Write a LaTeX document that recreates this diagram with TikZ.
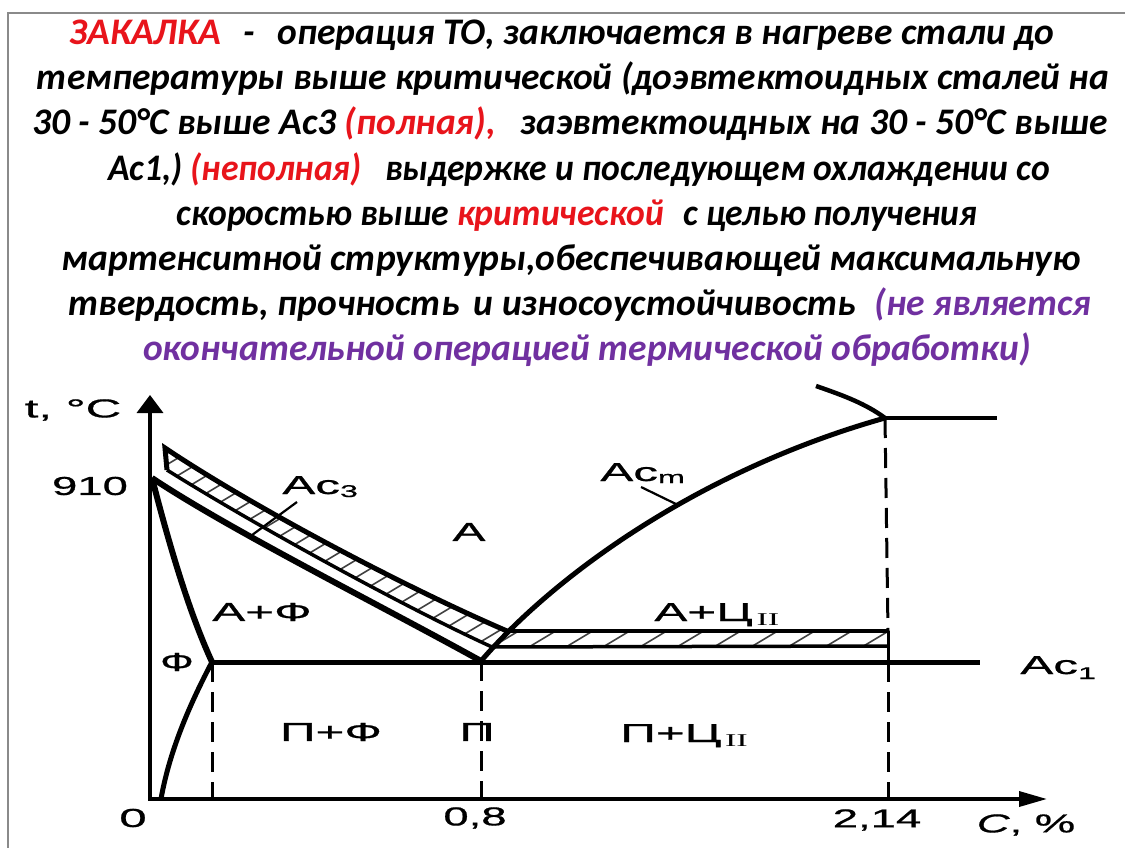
\documentclass[tikz,border=0pt]{standalone}
\usepackage{fontspec}
\setmainfont{Carlito}
\newfontfamily\arialf[FakeBold=0.6]{Liberation Sans}
\newfontfamily\timesf{Liberation Serif}
\usetikzlibrary{arrows.meta}
\definecolor{zred}{HTML}{E8141B}
\definecolor{zpurple}{HTML}{7030A0}
\definecolor{framegray}{HTML}{8A8A8A}
\begin{document}
\begin{tikzpicture}[x=1pt,y=-1pt,
  txt/.style={anchor=base, inner sep=0pt, font=\fontsize{37.5}{44}\selectfont\bfseries\itshape},
  lbl/.style={inner sep=0pt, xscale=1.9, font=\arialf\fontsize{26}{26}\selectfont},
  curvethick/.style={line width=6pt},
  bandline/.style={line width=3.5pt},
  axisline/.style={line width=3.5pt},
  dashline/.style={line width=3pt, dash pattern=on 20pt off 10pt},
  hatchline/.style={line width=1.6pt, black!75},
  leader/.style={line width=2.2pt}]
\useasboundingbox (0,0) rectangle (1125,848);
\fill[white] (0,0) rectangle (1125,848);
% frame
\draw[framegray, line width=2pt] (8,848) -- (8,13) -- (1125,13);

% ---------- title text ----------
\node[txt] (l1) at (562,45) {\textcolor{zred}{ЗАКАЛКА}\hspace{14pt} -\hspace{14pt} операция ТО, заключается в нагреве стали до};
\node[txt] (l2) at (573,90) {температуры выше критической (доэвтектоидных сталей на};
\node[txt] (l3) at (570,135) {30 - 50°C выше Ac3 \textcolor{zred}{(полная),}\hspace{16pt} заэвтектоидных на 30 - 50°C выше};
\node[txt, xscale=0.95] (l4) at (579,180) {Ac1,) \textcolor{zred}{(неполная)}\hspace{16pt} выдержке и последующем охлаждении со};
\node[txt, xscale=0.95] (l5) at (577,225) {скоростью выше \textcolor{zred}{критической}\hspace{12pt} с целью получения};
\node[txt] (l6) at (571,270) {мартенситной структуры,обеспечивающей максимальную};
\node[txt] (l7) at (580,315) {твердость, прочность\hspace{6pt} и износоустойчивость\hspace{10pt} \textcolor{zpurple}{(не является}};
\node[txt] (l8) at (587,360) {\textcolor{zpurple}{окончательной операцией термической обработки)}};

% ---------- key points ----------
\coordinate (O) at (150,799);
\coordinate (Ytop) at (150,395);
\coordinate (Xend) at (1047,799);
\coordinate (G) at (152,478);
\coordinate (S) at (481,661);
\coordinate (P) at (212,662);
\coordinate (E) at (885,418);
\coordinate (Ac1end) at (980,662);
\coordinate (Eend) at (997,418);
\coordinate (Lq) at (816,386);
\coordinate (Bu1) at (165,448);
\coordinate (Bu2) at (507,631);
\coordinate (Bl1) at (167,470);
\coordinate (Bl2) at (492,647);
\coordinate (Hu2) at (888,631);
\coordinate (Hl2) at (888,646);
\coordinate (Fbot) at (161,799);

% ---------- hatching ----------
\begin{scope}
  \clip (Bu1) .. controls (250,505) and (400,585) .. (Bu2)
        -- (Bl2) .. controls (400,605) and (250,522) .. (Bl1) -- cycle;
  \foreach \i in {0,...,40} {
    \draw[hatchline] (-450+\i*29,800) -- ++(600,-360);
  }
\end{scope}
\begin{scope}
  \clip (Bu2) -- (Hu2) -- (Hl2) -- (Bl2) -- cycle;
  \foreach \i in {0,...,40} {
    \draw[hatchline] (200+\i*37,800) -- ++(600,-360);
  }
\end{scope}

% ---------- axes ----------
\draw[axisline, -{Triangle[length=18pt,width=26pt]}] (150,800) -- (Ytop);
\draw[axisline, -{Triangle[length=28pt,width=15pt]}] (148,799) -- (Xend);

% ---------- dashed verticals ----------
\draw[dashline] (P) -- (212,799);
\draw[dashline] (S) -- (481,799);
\draw[dashline] (E) -- (888,631);
\draw[dashline] (888,662) -- (888,799);
\draw[line width=3pt] (Hu2) -- (888,662);

% ---------- band outlines ----------
\draw[line width=5pt, line join=miter] (Bl1) -- (Bu1) .. controls (250,505) and (400,585) .. (Bu2);
\draw[bandline] (Bl1) .. controls (250,522) and (400,605) .. (Bl2);
\draw[bandline] (Bu2) -- (Hu2);
\draw[bandline] (Bl2) -- (Hl2);

% ---------- phase lines ----------
\draw[curvethick] (G) .. controls (230,530) and (380,605) .. (S);
\draw[curvethick] (G) .. controls (168,540) and (188,610) .. (P);
\draw[line width=5pt] (P) .. controls (192,700) and (170,748) .. (Fbot);
\draw[line width=5pt] (P) -- (Ac1end);
\draw[line width=5pt] (S) .. controls (555,575) and (700,470) .. (E);
\draw[line width=4.5pt] (E) -- (Eend);
\draw[line width=4.5pt] (Lq) .. controls (845,396) and (866,404) .. (E);

% ---------- leaders ----------
\coordinate (Ld1a) at (297,502);
\coordinate (Ld1b) at (248,538);
\coordinate (Ld2a) at (641,487);
\coordinate (Ld2b) at (678,505);
\draw[leader] (Ld1a) -- (Ld1b);
\draw[leader] (Ld2a) -- (Ld2b);

% ---------- labels ----------
\node[lbl] (tC) at (73,410) {t, °C};
\node[lbl, xscale=0.92] (n910) at (90,486) {910};
\node[lbl, anchor=base west] (ac3) at (282,494) {Ac\raisebox{-3pt}{\fontsize{17}{17}\selectfont 3}};
\node[lbl] (A) at (469,532) {A};
\node[lbl] (AF) at (262,612) {A+Ф};
\node[lbl, anchor=base west] (acm) at (600,481) {Ac\raisebox{-2pt}{\fontsize{17}{17}\selectfont m}};
\node[lbl, anchor=base west] (ACII) at (654,621) {A+Ц\hspace{2pt}\raisebox{-4pt}{\timesf\fontsize{18}{18}\selectfont II}};
\node[lbl, xscale=0.9] (F) at (177,662) {Ф};
\node[lbl, anchor=base west] (ac1) at (1020,674) {Ac\raisebox{-5pt}{\fontsize{17}{17}\selectfont 1}};
\node[lbl] (PF) at (331,732) {П+Ф};
\node[lbl] (Pn) at (477,732) {П};
\node[lbl, anchor=base west] (PCII) at (620,742) {П+Ц\hspace{2pt}\raisebox{-4pt}{\timesf\fontsize{18}{18}\selectfont II}};
\node[lbl] (z0) at (133,818) {0};
\node[lbl, xscale=0.92] (z08) at (475,818) {0,8};
\node[lbl, xscale=0.92] (z214) at (877,820) {2,14};
\node[lbl, xscale=0.92] (cp) at (1026,825) {\textit{C}, \%};
\end{tikzpicture}
\end{document}
